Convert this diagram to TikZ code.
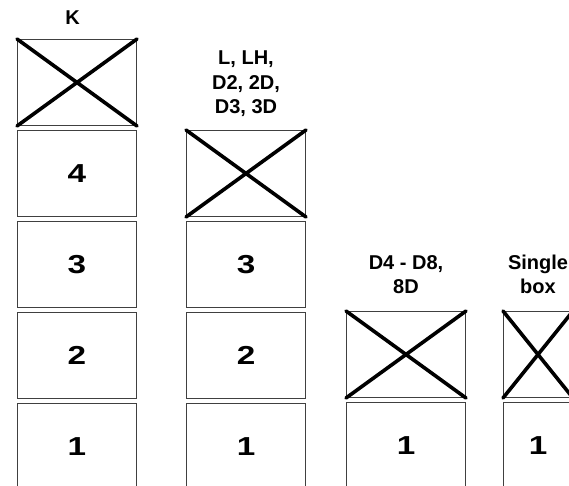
\documentclass[tikz,border=0pt]{standalone}
\usepackage{graphicx}
\usepackage{fontspec}
\setmainfont{Liberation Sans}
\usetikzlibrary{positioning}
\newcommand{\tiernum}[1]{\scalebox{1.28}[1]{#1}}
\tikzstyle{tier} = [rectangle, draw=black!75, line width=1.3pt, inner sep=0pt,
                    minimum width=118.7pt, minimum height=85.7pt,
                    font=\fontsize{26}{26}\selectfont\bfseries]
\tikzstyle{cross} = [line width=3.6pt, line cap=round]
\tikzstyle{caption} = [align=center, inner sep=0pt,
                       font=\fontsize{20}{24.5}\selectfont\bfseries]

\begin{document}
\begin{tikzpicture}[x=1pt, y=-1pt, node distance=4pt]
    \clip (0,0) rectangle (569,486);

    % K
    \node [tier] (k5) at (77,82.5) {};
    \node [tier, below=of k5] (k4) {\tiernum{4}};
    \node [tier, below=of k4] (k3) {\tiernum{3}};
    \node [tier, below=of k3] (k2) {\tiernum{2}};
    \node [tier, below=of k2] (k1) {\tiernum{1}};
    \node [caption, above=14.5pt of k5, xshift=-4.5pt] (kcap) {K};

    % L, LH, D2, 2D, D3, 3D
    \node [tier] (l4) at (246,173.5) {};
    \node [tier, below=of l4] (l3) {\tiernum{3}};
    \node [tier, below=of l3] (l2) {\tiernum{2}};
    \node [tier, below=of l2] (l1) {\tiernum{1}};
    \node [caption, above=13pt of l4] (lcap) {L, LH,\\D2, 2D,\\D3, 3D};

    % D4 - D8, 8D
    \node [tier] (d2) at (406,354.5) {};
    \node [tier, below=of d2] (d1) {\tiernum{1}};
    \node [caption, above=17pt of d2] (dcap) {D4 - D8,\\8D};

    % single box
    \node [tier, minimum width=68.7pt] (s2) at (538,354.5) {};
    \node [tier, minimum width=68.7pt, below=of s2] (s1) {\tiernum{1}};
    \node [caption, above=17pt of s2] (scap) {Single\\box};

    \foreach \b in {k5,l4,d2,s2}
      \draw [cross] (\b.north west) -- (\b.south east) (\b.south west) -- (\b.north east);
\end{tikzpicture}
\end{document}
